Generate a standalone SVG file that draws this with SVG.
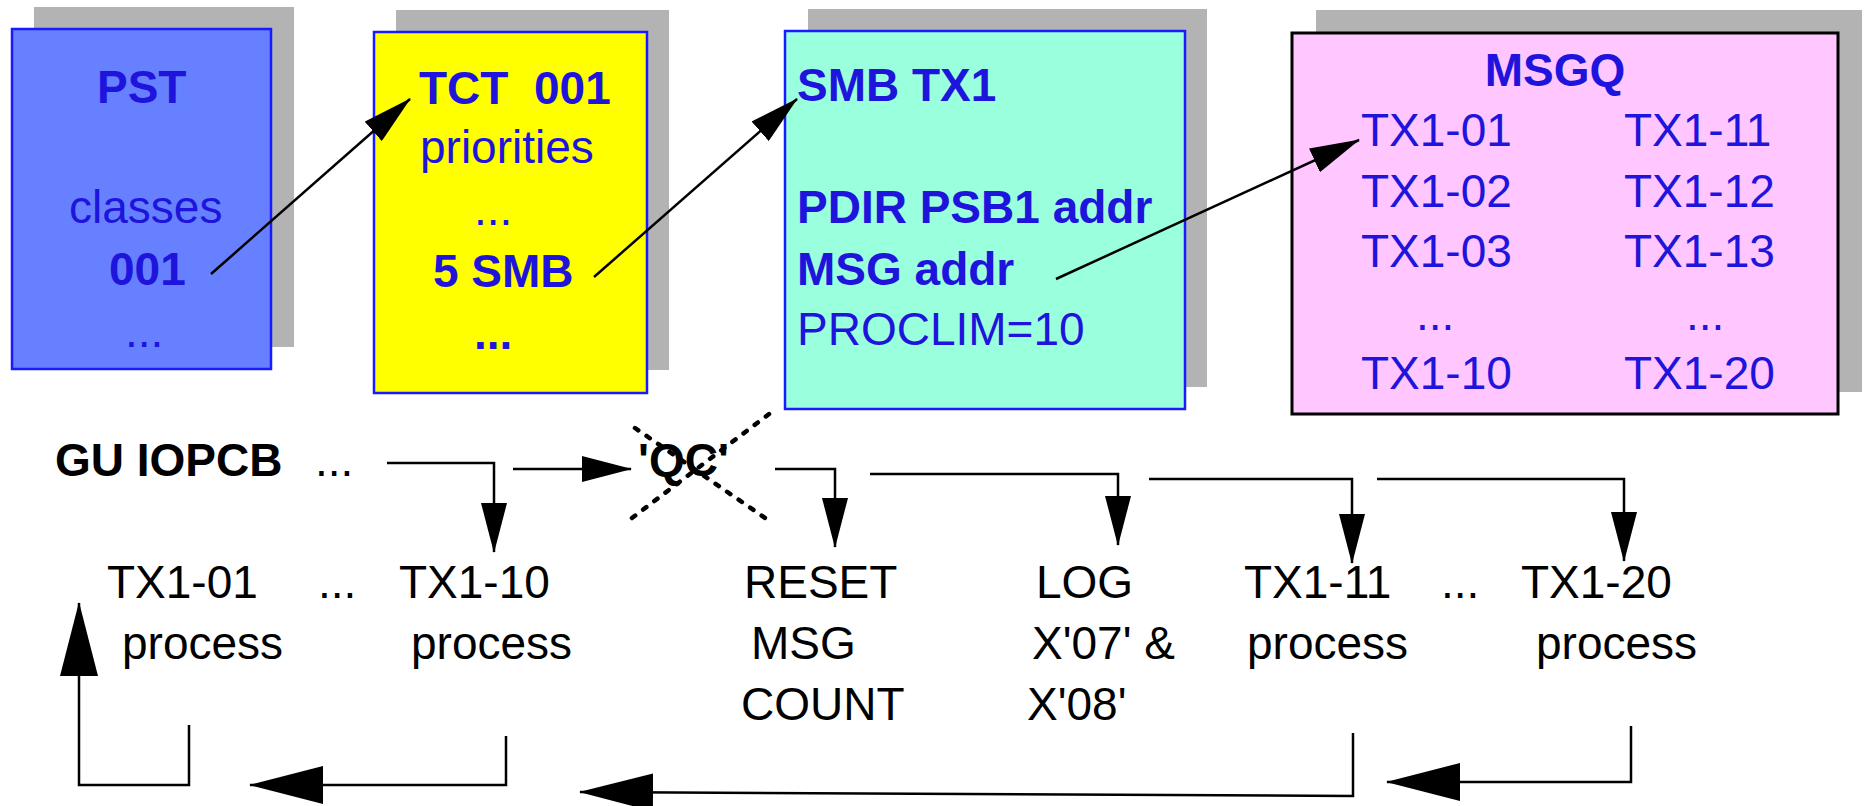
<svg xmlns="http://www.w3.org/2000/svg" width="1864" height="806" viewBox="0 0 1864 806">
<defs>
<style>
.t{font-family:"Liberation Sans",Arial,sans-serif;font-size:46px;fill:#1e14dc;white-space:pre}
.b{font-weight:bold}
.k{fill:#000}
.sh{fill:#b3b3b3}
.bx{stroke:#1a1aff;stroke-width:2.5}
.c{fill:none;stroke:#000;stroke-width:2.5}
.dot{fill:none;stroke:#000;stroke-width:4.5;stroke-linecap:round;stroke-dasharray:4 10}
</style>
<marker id="a" markerUnits="userSpaceOnUse" markerWidth="50" markerHeight="26" refX="49" refY="13" orient="auto" viewBox="0 0 50 26">
<path d="M0,0 L50,13 L0,26 Z" fill="#000"/>
</marker>
<marker id="A" markerUnits="userSpaceOnUse" markerWidth="74" markerHeight="38" refX="73" refY="19" orient="auto" viewBox="0 0 74 38">
<path d="M0,0 L74,19 L0,38 Z" fill="#000"/>
</marker>
</defs>
<rect width="1864" height="806" fill="#fff"/>

<g id="pst">
<rect class="sh" x="34" y="7" width="260" height="340"/>
<rect class="bx" x="12" y="29" width="259" height="340" fill="#6680ff"/>
<text class="t b" x="97" y="103">PST</text>
<text class="t" x="69" y="223">classes</text>
<text class="t b" x="109" y="285">001</text>
<text class="t" x="125" y="347">...</text>
</g>

<g id="tct">
<rect class="sh" x="396" y="10" width="273" height="360"/>
<rect class="bx" x="374" y="32" width="273" height="361" fill="#ffff00"/>
<text class="t b" x="419" y="104">TCT  001</text>
<text class="t" x="420" y="163">priorities</text>
<text class="t" x="474" y="225">...</text>
<text class="t b" x="433" y="287">5 SMB</text>
<text class="t b" x="474" y="349">...</text>
</g>

<g id="smb">
<rect class="sh" x="808" y="9" width="399" height="378"/>
<rect class="bx" x="785" y="31" width="400" height="378" fill="#99ffdd"/>
<text class="t b" x="797" y="101">SMB TX1</text>
<text class="t b" x="797" y="223">PDIR PSB1 addr</text>
<text class="t b" x="797" y="285">MSG addr</text>
<text class="t" x="797" y="345">PROCLIM=10</text>
</g>

<g id="msgq">
<rect class="sh" x="1316" y="10" width="546" height="382"/>
<rect x="1292" y="33" width="546" height="381" fill="#ffc6ff" stroke="#000" stroke-width="3"/>
<text class="t b" x="1555" y="86" text-anchor="middle">MSGQ</text>
<text class="t" x="1361" y="146">TX1-01</text>
<text class="t" x="1361" y="207">TX1-02</text>
<text class="t" x="1361" y="267">TX1-03</text>
<text class="t" x="1416" y="330">...</text>
<text class="t" x="1361" y="389">TX1-10</text>
<text class="t" x="1624" y="146">TX1-11</text>
<text class="t" x="1624" y="207">TX1-12</text>
<text class="t" x="1624" y="267">TX1-13</text>
<text class="t" x="1686" y="330">...</text>
<text class="t" x="1624" y="389">TX1-20</text>
</g>

<g id="gu">
<text class="t b k" x="55" y="476">GU IOPCB</text>
<text class="t k" x="315" y="476">...</text>
</g>
<g id="qc">
<text class="t b k" x="638" y="476">'QC'</text>
<line class="dot" x1="635" y1="428" x2="765" y2="518"/>
<line class="dot" x1="632" y1="518" x2="773" y2="411"/>
</g>
<g id="tx01">
<text class="t k" x="107" y="598">TX1-01</text>
<text class="t k" x="122" y="659">process</text>
</g>
<g id="dots1"><text class="t k" x="318" y="598">...</text></g>
<g id="tx10">
<text class="t k" x="399" y="598">TX1-10</text>
<text class="t k" x="411" y="659">process</text>
</g>
<g id="reset">
<text class="t k" x="744" y="598">RESET</text>
<text class="t k" x="751" y="659">MSG</text>
<text class="t k" x="741" y="720">COUNT</text>
</g>
<g id="log">
<text class="t k" x="1036" y="598">LOG</text>
<text class="t k" x="1032" y="659">X'07' &amp;</text>
<text class="t k" x="1027" y="720">X'08'</text>
</g>
<g id="tx11">
<text class="t k" x="1244" y="598">TX1-11</text>
<text class="t k" x="1247" y="659">process</text>
</g>
<g id="dots2"><text class="t k" x="1441" y="598">...</text></g>
<g id="tx20">
<text class="t k" x="1521" y="598">TX1-20</text>
<text class="t k" x="1536" y="659">process</text>
</g>

<g id="connectors">
<line class="c" x1="211" y1="274" x2="410" y2="99" marker-end="url(#a)"/>
<line class="c" x1="594" y1="277" x2="797" y2="99" marker-end="url(#a)"/>
<line class="c" x1="1056" y1="279" x2="1359" y2="140" marker-end="url(#a)"/>
<polyline class="c" points="387,463 494,463 494,552" marker-end="url(#a)"/>
<line class="c" x1="513" y1="469" x2="631" y2="469" marker-end="url(#a)"/>
<polyline class="c" points="775,469 835,469 835,547" marker-end="url(#a)"/>
<polyline class="c" points="870,474 1118,474 1118,545" marker-end="url(#a)"/>
<polyline class="c" points="1149,479 1352,479 1352,563" marker-end="url(#a)"/>
<polyline class="c" points="1377,479 1624,479 1624,561" marker-end="url(#a)"/>
<polyline class="c" points="189,725 189,785 79,785 79,603" marker-end="url(#A)"/>
<polyline class="c" points="506,736 506,785 250,785" marker-end="url(#A)"/>
<polyline class="c" points="1353,733 1353,796 580,792" marker-end="url(#A)"/>
<polyline class="c" points="1631,726 1631,782 1387,782" marker-end="url(#A)"/>
</g>
</svg>
